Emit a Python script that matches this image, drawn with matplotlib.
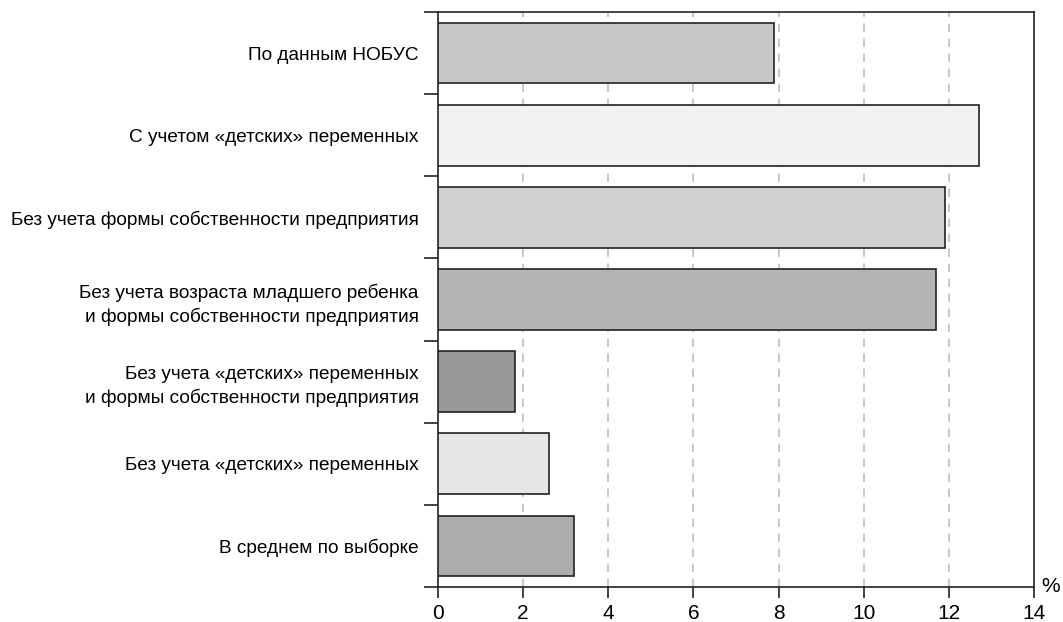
import matplotlib.pyplot as plt
from matplotlib import font_manager

labels = [
    'По данным НОБУС',
    'С учетом «детских» переменных',
    'Без учета формы собственности предприятия',
    'Без учета возраста младшего ребенка\nи формы собственности предприятия',
    'Без учета «детских» переменных\nи формы собственности предприятия',
    'Без учета «детских» переменных',
    'В среднем по выборке',
]
values = [7.9, 12.7, 11.9, 11.7, 1.8, 2.6, 3.2]
colors = ['#c8c8c8', '#f2f2f2', '#d0d0d0', '#b5b5b5', '#989898', '#e6e6e6', '#acacac']
xticks = [0, 2, 4, 6, 8, 10, 12, 14]

names = {f.name for f in font_manager.fontManager.ttflist}
fam = ['Liberation Sans Narrow', 'DejaVu Sans'] if 'Liberation Sans Narrow' in names else ['Liberation Sans', 'DejaVu Sans']
plt.rcParams['font.family'] = fam

fig = plt.figure(figsize=(10.63, 6.22), dpi=100)
ax = fig.add_axes([438 / 1063, 35 / 622, 596 / 1063, 575 / 622])

n = len(labels)
pos = list(range(n))
ax.barh(pos, values, height=0.74, color=colors, edgecolor='#222222', linewidth=1.2, zorder=3)

ax.set_xlim(0, 14)
ax.set_ylim(n - 0.5, -0.5)
ax.set_xticks(xticks)
ax.set_xticklabels([str(t) for t in xticks], fontsize=15)

# category labels in the middle, ticks at the boundaries
ax.set_yticks([p + 0.5 for p in range(-1, n)])
ax.set_yticklabels([])
ax.set_yticks(pos, minor=True)
ax.set_yticklabels(labels, minor=True, fontsize=13.7, linespacing=1.4)
ax.tick_params(axis='y', which='minor', length=0, pad=14)
ax.tick_params(axis='y', which='major', length=10, width=1.2, color='#222222')
ax.tick_params(axis='x', length=8, width=1.2, color='#222222', pad=4)

for t in xticks[1:-1]:
    ax.axvline(t, color='#bdbdbd', linestyle=(0, (5, 4)), linewidth=1.2, zorder=1)

for s in ax.spines.values():
    s.set_linewidth(1.2)
    s.set_color('#222222')

ax.text(1.013, 0.0, '%', transform=ax.transAxes, fontsize=15, va='center', ha='left')

fig.savefig('out.png', dpi=100)
